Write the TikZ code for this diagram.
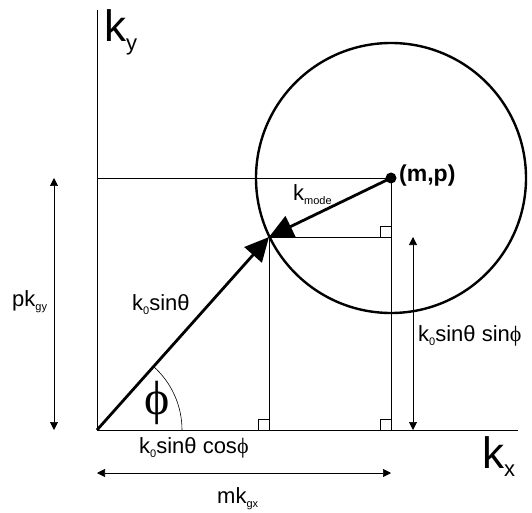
\documentclass[tikz,border=0pt]{standalone}
\usepackage{fontspec}
\setmainfont{Liberation Sans}
\newfontfamily\serifgreek{Liberation Serif}
\usetikzlibrary{arrows.meta,calc}

\newcommand{\lowsub}[1]{\raisebox{-0.35ex}{\scalebox{0.5}{#1}}}

\begin{document}
\begin{tikzpicture}[
    x=1pt, y=1pt,
    thinline/.style={line width=0.6pt},
    axis/.style={line width=0.8pt},
    vec/.style={line width=2.8pt, -{Triangle[length=24pt,width=23pt]}},
    dim/.style={line width=0.7pt, {Triangle[length=8pt,width=8pt]}-{Triangle[length=8pt,width=8pt]}},
    lbl/.style={inner sep=0pt, anchor=base west, font=\fontsize{22}{25}\selectfont},
    axlbl/.style={inner sep=0pt, anchor=base west, font=\fontsize{44}{48}\selectfont}
  ]
    \useasboundingbox (0,0) rectangle (532,512);

    % Key points
    \coordinate (orig) at (97,82);
    \coordinate (mode) at (391,334);
    \coordinate (tip) at (269,275);
    \coordinate (ytop) at (97,502);
    \coordinate (xend) at (518,82);

    % Axes
    \draw[axis] (orig) -- (ytop);
    \draw[axis] (orig) -- (xend);

    % Projection lines
    \draw[thinline] (ytop |- mode) -- (mode) -- (mode |- orig);
    \draw[thinline] (tip) -- (mode |- tip);
    \draw[thinline] (tip) -- (tip |- orig);

    % Right-angle marks
    \draw[thinline] ($(mode |- tip)+(-11,0)$) -- ++(0,11) -- ++(11,0);
    \draw[thinline] ($(mode |- orig)+(-11,0)$) -- ++(0,11) -- ++(11,0);
    \draw[thinline] ($(tip |- orig)+(-11,0)$) -- ++(0,11) -- ++(11,0);

    % Circle round the mode
    \draw[line width=2.4pt] (mode) circle (135);

    % Vectors
    \draw[vec] (orig) -- (tip);
    \draw[vec] (mode) -- (tip);
    \fill (mode) circle (5.5);

    % Angle phi
    \draw[thinline] ($(orig)+(85,0)$) arc (0:48.3:85);
    \node[inner sep=0pt, font=\serifgreek\fontsize{48}{52}\selectfont] (phi) at (157,109) {ϕ};

    % Dimension arrows
    \coordinate (pdimtop) at (54,334);
    \coordinate (pdimbot) at (54,82);
    \coordinate (mdimleft) at (97,39);
    \coordinate (mdimright) at (391,39);
    \coordinate (sdimtop) at (413,275);
    \coordinate (sdimbot) at (413,82);
    \draw[dim] (pdimtop) -- (pdimbot);
    \draw[dim] (mdimleft) -- (mdimright);
    \draw[dim] (sdimtop) -- (sdimbot);

    % Labels
    \node[axlbl] (ky) at (104,470) {k\lowsub{y}};
    \node[axlbl] (kx) at (482,44) {k\lowsub{x}};
    \node[lbl, anchor=west, font=\bfseries\fontsize{23}{26}\selectfont] (mp) at (399,336) {(m,p)};
    \node[lbl] (kmode) at (293,312) {k\lowsub{mode}};
    \node[lbl] (ksin) at (132,202) {k\lowsub{0}sinθ};
    \node[lbl] (kcos) at (139,59) {k\lowsub{0}sinθ cos{\serifgreek ϕ}};
    \node[lbl] (ksinphi) at (418,171) {k\lowsub{0}sinθ sin{\serifgreek ϕ}};
    \node[lbl] (pkgy) at (12,206) {pk\lowsub{gy}};
    \node[lbl] (mkgx) at (217,9) {mk\lowsub{gx}};

  \end{tikzpicture}
\end{document}
